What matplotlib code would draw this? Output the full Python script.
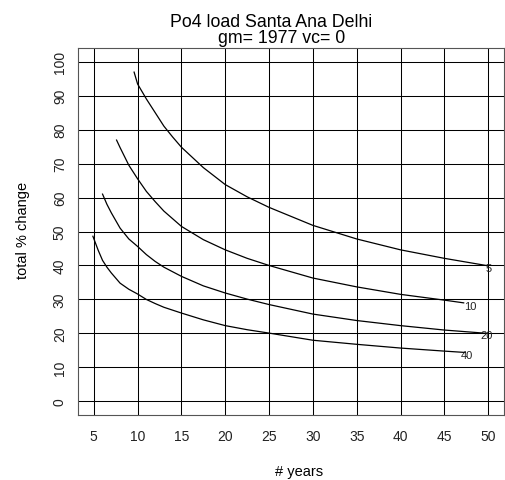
import matplotlib
matplotlib.use('Agg')
import matplotlib.pyplot as plt

plt.rcParams['font.family'] = ['Liberation Sans', 'DejaVu Sans']

# curves: years -> total % change, one per label
yrs_5 = [9.6, 10, 11, 12, 13, 14, 15, 17.5, 20, 22.5, 25, 30, 35, 40, 45, 50]
pct_5 = [96.9, 93.4, 89.0, 85.0, 81.0, 77.8, 74.8, 68.8, 63.8, 60.2, 57.1, 51.8, 47.8, 44.6, 42.1, 39.9]

yrs_10 = [7.6, 8, 9, 10, 11, 12, 13, 15, 17.5, 20, 22.5, 25, 30, 35, 40, 45, 47.2]
pct_10 = [76.9, 74.7, 69.5, 65.5, 61.8, 58.8, 56.0, 51.5, 47.6, 44.6, 42.1, 40.0, 36.3, 33.7, 31.5, 29.8, 29.0]

yrs_20 = [6.0, 6.5, 7, 8, 9, 10, 11, 12, 13, 15, 17.5, 20, 22.5, 25, 30, 35, 40, 45, 50]
pct_20 = [61.0, 58.0, 55.5, 51.0, 47.8, 45.6, 43.2, 41.2, 39.5, 36.8, 34.0, 31.9, 30.1, 28.5, 25.7, 23.8, 22.3, 21.0, 20.0]

yrs_40 = [4.9, 5.5, 6, 6.5, 7, 8, 9, 10, 11, 12, 13, 15, 17.5, 20, 22.5, 25, 30, 35, 40, 45, 47.4]
pct_40 = [48.6, 44.5, 41.5, 39.5, 37.8, 34.8, 33.0, 31.6, 30.0, 28.8, 27.7, 26.0, 24.0, 22.3, 21.1, 20.1, 18.0, 16.8, 15.7, 14.8, 14.4]

curve_names = ['5', '10', '20', '40']
label_x = [50, 47.9, 49.8, 47.6]
label_y = [39.2, 28.0, 19.5, 13.8]

xticks = [5, 10, 15, 20, 25, 30, 35, 40, 45, 50]
yticks = [0, 10, 20, 30, 40, 50, 60, 70, 80, 90, 100]

W, H = 505, 481
fig = plt.figure(figsize=(W / 100, H / 100), dpi=100)
ax = fig.add_axes([78 / W, (H - 416) / H, (504 - 78) / W, (416 - 49) / H])

for xs, ys in [(yrs_5, pct_5), (yrs_10, pct_10), (yrs_20, pct_20), (yrs_40, pct_40)]:
    ax.plot(xs, ys, color='black', lw=0.9)

for name, lx, ly in zip(curve_names, label_x, label_y):
    ax.text(lx, ly, name, fontsize=8, ha='center', va='center', color='#222222')

ax.set_xlim(3.2, 51.8)
ax.set_ylim(-4, 104)
ax.set_xticks(xticks)
ax.set_yticks(yticks)
ax.set_yticklabels([str(v) for v in yticks], rotation=90, va='center')
ax.tick_params(length=0, labelsize=10, colors='#222222')
ax.tick_params(axis='x', pad=10)
ax.tick_params(axis='y', pad=8)
ax.grid(True, color='black', lw=0.75)
for s in ax.spines.values():
    s.set_color('#555555')
    s.set_linewidth(0.8)

fig.text(271 / W, 1 - 26.7 / H, 'Po4 load Santa Ana Delhi', ha='center', va='baseline', fontsize=12.8)
fig.text(282 / W, 1 - 43.3 / H, 'gm= 1977 vc= 0', ha='center', va='baseline', fontsize=12.8)
fig.text(299 / W, 1 - 472 / H, '# years', ha='center', va='center', fontsize=10.5)
fig.text(22.7 / W, 1 - 230 / H, 'total % change', ha='center', va='center', rotation=90, fontsize=10.5)

fig.savefig('out.png', dpi=100)
